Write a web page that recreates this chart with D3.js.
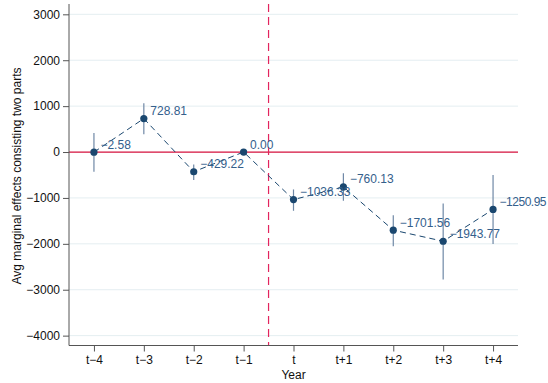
<!DOCTYPE html>
<html>
<head>
<meta charset="utf-8">
<script src="https://cdn.jsdelivr.net/npm/d3@7"></script>
<style>
  html, body { margin: 0; padding: 0; background: #fff; }
  text { font-family: "Liberation Sans", Arial, Helvetica, sans-serif; }
</style>
</head>
<body>
<svg id="chart" width="548" height="383"></svg>
<script>
// Event-study estimates with confidence intervals
const periods = ["t\u22124", "t\u22123", "t\u22122", "t\u22121", "t", "t+1", "t+2", "t+3", "t+4"];
const estimates = [-2.58, 728.81, -429.22, 0.00, -1036.33, -760.13, -1701.56, -1943.77, -1250.95];
const ciLower = [-430, 390, -610, 0, -1280, -1060, -2050, -2775, -2005];
const ciUpper = [415, 1060, -270, 0, -815, -465, -1375, -1120, -500];
const yTicks = [-4000, -3000, -2000, -1000, 0, 1000, 2000, 3000];

const fmt = v => (v < 0 ? "\u2212" : "") + Math.abs(v).toFixed(2);
const fmtTick = v => (v < 0 ? "\u2212" : "") + Math.abs(v);

const svg = d3.select("#chart");
const plotLeft = 69, plotRight = 518, plotTop = 4, plotBottom = 345.5;

const x = d3.scaleLinear().domain([-0.5, periods.length - 0.5]).range([plotLeft, plotRight]);
const y = d3.scaleLinear().domain([-4215, 3225]).range([plotBottom, plotTop]);

const navy = "#1a476f";
const ciColor = "#6f88a6";
const labelColor = "#34608c";
const red = "#d4113c";
const pink = "#e3245e";
const fs = 12;

// horizontal gridlines
svg.append("g").selectAll("line").data(yTicks.filter(d => d !== 0)).join("line")
  .attr("x1", plotLeft).attr("x2", plotRight)
  .attr("y1", d => y(d)).attr("y2", d => y(d))
  .attr("stroke", "#e4eef1").attr("stroke-width", 1);

// zero reference line
svg.append("line")
  .attr("x1", plotLeft).attr("x2", plotRight)
  .attr("y1", y(0)).attr("y2", y(0))
  .attr("stroke", red).attr("stroke-width", 1.2);

// treatment onset
svg.append("line")
  .attr("x1", x(3.5)).attr("x2", x(3.5))
  .attr("y1", plotTop).attr("y2", plotBottom)
  .attr("stroke", pink).attr("stroke-width", 1.2)
  .attr("stroke-dasharray", "8,5");

// axes
const yAxis = d3.axisLeft(y).tickValues(yTicks).tickFormat(fmtTick).tickSize(6).tickPadding(3);
const gy = svg.append("g").attr("transform", `translate(${plotLeft},0)`).call(yAxis);
gy.select(".domain").attr("d", `M0,${plotTop}V${plotBottom}`).attr("stroke", "#555");
gy.selectAll(".tick line").attr("stroke", "#555");
gy.selectAll(".tick text").attr("font-size", fs).attr("fill", "#111")
  .attr("font-family", "Liberation Sans, Arial, sans-serif");

const xAxis = d3.axisBottom(x).tickValues(d3.range(periods.length)).tickFormat(i => periods[i]).tickSize(6).tickPadding(4);
const gx = svg.append("g").attr("transform", `translate(0,${plotBottom})`).call(xAxis);
gx.select(".domain").attr("d", `M${plotLeft},0H${plotRight}`).attr("stroke", "#555");
gx.selectAll(".tick line").attr("stroke", "#555");
gx.selectAll(".tick text").attr("font-size", fs).attr("fill", "#111")
  .attr("font-family", "Liberation Sans, Arial, sans-serif");

// axis titles
svg.append("text").attr("x", x(4)).attr("y", 379)
  .attr("text-anchor", "middle").attr("font-size", fs).attr("fill", "#111").text("Year");
svg.append("text")
  .attr("transform", `translate(21,${(y(3000) + y(-4000)) / 2 + 1}) rotate(-90)`)
  .attr("text-anchor", "middle").attr("font-size", fs).attr("fill", "#111")
  .text("Avg marginal effects consisting two parts");

const idx = d3.range(periods.length);

// confidence intervals
svg.append("g").selectAll("line").data(idx.filter(i => ciUpper[i] !== ciLower[i])).join("line")
  .attr("x1", i => x(i)).attr("x2", i => x(i))
  .attr("y1", i => y(ciLower[i])).attr("y2", i => y(ciUpper[i]))
  .attr("stroke", ciColor).attr("stroke-width", 1.2);

// connecting line
svg.append("path")
  .datum(idx)
  .attr("d", d3.line().x(i => x(i)).y(i => y(estimates[i])))
  .attr("fill", "none").attr("stroke", navy).attr("stroke-width", 1)
  .attr("stroke-dasharray", "6,4");

// point estimates
svg.append("g").selectAll("circle").data(idx).join("circle")
  .attr("cx", i => x(i)).attr("cy", i => y(estimates[i]))
  .attr("r", 3.6).attr("fill", navy);

// value labels
svg.append("g").selectAll("text").data(idx).join("text")
  .attr("x", i => x(i) + 6.5).attr("y", i => y(estimates[i]) - 3.5)
  .attr("font-size", fs).attr("fill", labelColor)
  .attr("textLength", i => (i === periods.length - 1 ? 47 : null))
  .text(i => fmt(estimates[i]));
</script>
</body>
</html>
